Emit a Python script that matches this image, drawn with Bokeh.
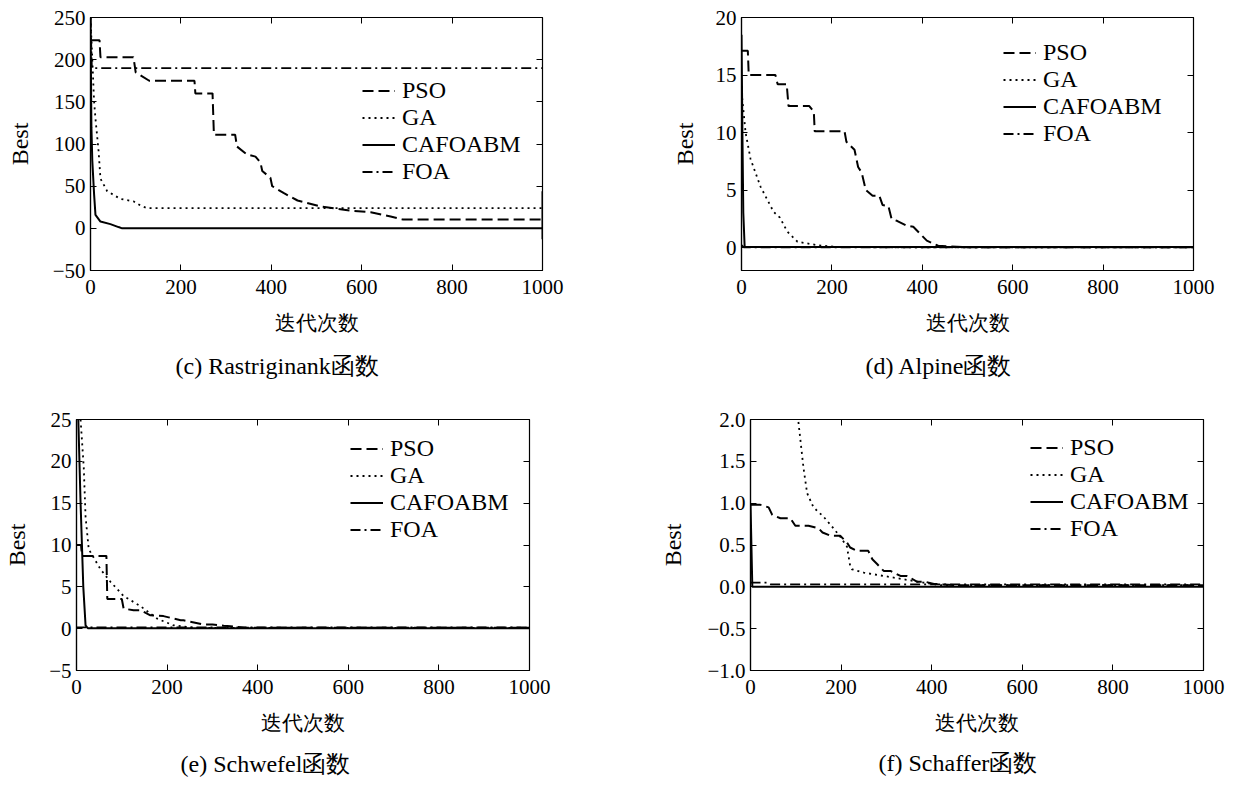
from bokeh.plotting import figure
from bokeh.layouts import column, row
from bokeh.models import (Legend, LegendItem, LinearAxis, Title, FixedTicker,
                          CustomJSTickFormatter, Range1d)
from bokeh.embed import file_html
from bokeh.resources import INLINE

FONT = "Liberation Serif"
SERIES = ["PSO", "GA", "CAFOABM", "FOA"]
X_LABEL = "迭代次数"
Y_LABEL = "Best"
X_TICKS = [0, 200, 400, 600, 800, 1000]

# ---------------- (c) Rastriginank ----------------
c_pso_x = [0, 20, 22, 95, 100, 130, 230, 232, 270, 273, 320, 324, 345, 365, 376, 380, 398, 402, 427, 458, 509, 575, 620, 664, 690, 1000]
c_pso_y = [223, 223, 203, 203, 185, 175, 175, 160, 160, 111, 111, 97, 88, 85, 78, 68, 60, 50, 42, 33, 26, 21, 19, 14, 10.6, 10.6]
c_ga_x = [0, 4, 8, 11, 18, 22, 37, 66, 95, 111, 125, 1000]
c_ga_y = [250, 200, 150, 130, 91, 59, 44, 35, 32, 27, 24, 24]
c_caf_x = [0, 2, 4, 8, 11, 22, 44, 62, 70, 1000, 1000, 1000]
c_caf_y = [250, 120, 80, 40, 16, 8, 5, 1.5, 0, 0, 44, -13]
c_foa_x = [0, 3, 1000]
c_foa_y = [250, 190, 190]

# ---------------- (d) Alpine ----------------
d_pso_x = [0, 14, 16, 75, 80, 100, 104, 150, 160, 162, 228, 232, 250, 258, 266, 275, 290, 305, 312, 325, 332, 345, 365, 380, 395, 410, 435, 460, 500, 1000]
d_pso_y = [17.1, 17.1, 15.0, 15.0, 14.2, 14.2, 12.3, 12.3, 11.8, 10.1, 10.1, 9.2, 8.5, 7.0, 6.5, 5.0, 4.5, 4.5, 3.7, 3.6, 2.5, 2.3, 1.9, 1.8, 1.2, 0.6, 0.15, 0.1, 0.03, 0.03]
d_ga_x = [0, 2, 9, 20, 42, 71, 85, 101, 124, 168, 212, 300, 1000]
d_ga_y = [13.5, 12.8, 10.0, 7.7, 5.3, 3.1, 2.6, 1.4, 0.5, 0.2, 0.05, 0.02, 0.02]
d_caf_x = [0, 2, 4, 7, 1000]
d_caf_y = [18.5, 10, 3, 0.05, 0.05]
d_foa_x = [0, 5, 1000]
d_foa_y = [0.2, 0.02, 0.02]

# ---------------- (e) Schwefel ----------------
e_pso_x = [0, 10, 12, 66, 68, 100, 104, 126, 141, 163, 192, 230, 236, 281, 300, 325, 340, 370, 1000]
e_pso_y = [10.0, 10.0, 8.7, 8.7, 3.55, 3.55, 2.4, 2.2, 2.2, 1.6, 1.5, 1.0, 1.0, 0.5, 0.5, 0.35, 0.3, 0.1, 0.1]
e_ga_x = [0, 9, 16, 20, 27, 53, 75, 104, 141, 178, 214, 260, 1000]
e_ga_y = [30, 25, 19.3, 13.4, 9.5, 7.1, 5.6, 3.9, 2.7, 1.2, 0.4, 0.1, 0.1]
e_caf_x = [0, 4, 9, 15, 20, 25, 1000]
e_caf_y = [30, 25, 15, 5, 0.4, 0.05, 0.05]
e_foa_x = [0, 1000]
e_foa_y = [0.15, 0.15]

# ---------------- (f) Schaffer ----------------
f_pso_x = [0, 22, 40, 48, 66, 88, 99, 128, 150, 159, 177, 198, 213, 220, 235, 260, 269, 280, 294, 309, 331, 346, 368, 386, 405, 450, 1000]
f_pso_y = [0.98, 0.98, 0.95, 0.86, 0.82, 0.82, 0.73, 0.73, 0.70, 0.65, 0.61, 0.61, 0.53, 0.47, 0.43, 0.43, 0.33, 0.27, 0.19, 0.19, 0.13, 0.13, 0.06, 0.06, 0.035, 0.02, 0.02]
f_ga_x = [80, 106, 117, 125, 139, 161, 180, 198, 213, 220, 224, 250, 294, 338, 382, 420, 1000]
f_ga_y = [2.6, 1.96, 1.42, 1.12, 0.95, 0.84, 0.72, 0.60, 0.48, 0.25, 0.21, 0.17, 0.13, 0.09, 0.05, 0.02, 0.02]
f_caf_x = [0, 2, 4, 1000]
f_caf_y = [1.0, 0.5, 0.0, 0.0]
f_foa_x = [0, 37, 45, 1000]
f_foa_y = [0.05, 0.05, 0.03, 0.03]

STYLES = {
    "PSO": dict(line_dash="11 5", line_width=2.0),
    "GA": dict(line_dash="2 4", line_width=1.8),
    "CAFOABM": dict(line_dash="solid", line_width=2.0),
    "FOA": dict(line_dash="10 4 2 4", line_width=1.8),
}

INT_FMT = "return (tick < 0 ? '\\u2212' + Math.abs(tick) : '' + tick);"
DEC_FMT = "return (tick < 0 ? '\\u2212' + Math.abs(tick).toFixed(1) : tick.toFixed(1));"
BLANK_FMT = "return '';"


def make(cfg):
    p = figure(width=cfg["w"], height=cfg["h"], output_backend="svg", toolbar_location=None,
               x_range=Range1d(0, 1000), y_range=Range1d(*cfg["yr"]),
               min_border_left=cfg["b"][0], min_border_right=cfg["b"][1],
               min_border_top=cfg["b"][2], min_border_bottom=cfg["b"][3],
               x_axis_label=X_LABEL, y_axis_label=Y_LABEL)
    p.grid.visible = False
    p.outline_line_color = "black"
    p.outline_line_width = 1.2
    p.background_fill_color = "white"
    p.border_fill_color = "white"

    p.xaxis.ticker = FixedTicker(ticks=X_TICKS)
    p.yaxis.ticker = FixedTicker(ticks=cfg["yt"])
    p.xaxis.formatter = CustomJSTickFormatter(code=INT_FMT)
    p.yaxis.formatter = CustomJSTickFormatter(code=cfg["fmt"])
    for ax in (p.xaxis[0], p.yaxis[0]):
        ax.axis_line_color = "black"
        ax.axis_line_width = 1.2
        ax.major_tick_in = 6
        ax.major_tick_out = 0
        ax.major_tick_line_color = "black"
        ax.minor_tick_line_color = None
        ax.major_label_text_font = FONT
        ax.major_label_text_font_size = "21px"
        ax.major_label_text_color = "black"
        ax.axis_label_text_font = FONT
        ax.axis_label_text_font_style = "normal"
        ax.axis_label_text_color = "black"
    p.xaxis.major_label_standoff = 9
    p.yaxis.major_label_standoff = 5
    p.xaxis.axis_label_text_font_size = "21px"
    p.yaxis.axis_label_text_font_size = "24px"
    p.xaxis.axis_label_standoff = 14
    p.yaxis.axis_label_standoff = cfg["ylstand"]

    # mirrored tick marks on the top and right
    for side, tk in (("right", cfg["yt"]), ("above", X_TICKS)):
        ax = LinearAxis(ticker=FixedTicker(ticks=tk),
                        formatter=CustomJSTickFormatter(code=BLANK_FMT),
                        major_label_standoff=0, axis_line_color=None,
                        major_tick_in=6, major_tick_out=0, major_tick_line_color="black",
                        minor_tick_line_color=None)
        p.add_layout(ax, side)

    rs = {}
    for name in SERIES:
        xs, ys = cfg["data"][name]
        rs[name] = p.line(xs, ys, line_color="black", **STYLES[name])

    leg = Legend(items=[LegendItem(label=n, renderers=[rs[n]]) for n in SERIES],
                 location=cfg["leg"], glyph_width=33, glyph_height=27, label_height=27,
                 spacing=0, padding=0, margin=0, label_standoff=7,
                 border_line_color=None, background_fill_alpha=0,
                 label_text_font=FONT, label_text_font_size="24px", label_text_color="black")
    p.add_layout(leg)

    t = Title(text=cfg["cap"], align="left", offset=cfg["capoff"], text_font=FONT,
              text_font_size="24px", text_font_style="normal", text_color="black",
              standoff=cfg["tstand"])
    p.add_layout(t, "below")
    return p


pc = make(dict(w=617, h=393, yr=(-50, 250), yt=[-50, 0, 50, 100, 150, 200, 250], fmt=INT_FMT,
               b=(90, 75, 15, 123), ylstand=17, leg=(272, 85), capoff=85, tstand=26,
               cap="(c)  Rastriginank函数",
               data={"PSO": (c_pso_x, c_pso_y), "GA": (c_ga_x, c_ga_y),
                     "CAFOABM": (c_caf_x, c_caf_y), "FOA": (c_foa_x, c_foa_y)}))
pd_ = make(dict(w=613, h=393, yr=(-2, 20), yt=[0, 5, 10, 15, 20], fmt=INT_FMT,
                b=(124, 37, 17, 121), ylstand=15, leg=(262, 123), capoff=124, tstand=26,
                cap="(d)  Alpine函数",
                data={"PSO": (d_pso_x, d_pso_y), "GA": (d_ga_x, d_ga_y),
                      "CAFOABM": (d_caf_x, d_caf_y), "FOA": (d_foa_x, d_foa_y)}))
pe = make(dict(w=617, h=395, yr=(-5, 25), yt=[-5, 0, 5, 10, 15, 20, 25], fmt=INT_FMT,
               b=(76, 88, 26, 118), ylstand=16, leg=(274, 127), capoff=104, tstand=23,
               cap="(e)  Schwefel函数",
               data={"PSO": (e_pso_x, e_pso_y), "GA": (e_ga_x, e_ga_y),
                     "CAFOABM": (e_caf_x, e_caf_y), "FOA": (e_foa_x, e_foa_y)}))
pf = make(dict(w=613, h=395, yr=(-1, 2), yt=[-1.0, -0.5, 0.0, 0.5, 1.0, 1.5, 2.0], fmt=DEC_FMT,
               b=(133, 27, 25, 115), ylstand=18, leg=(280, 128), capoff=128, tstand=20,
               cap="(f)  Schaffer函数",
               data={"PSO": (f_pso_x, f_pso_y), "GA": (f_ga_x, f_ga_y),
                     "CAFOABM": (f_caf_x, f_caf_y), "FOA": (f_foa_x, f_foa_y)}))

layout = column(row(pc, pd_), row(pe, pf))
open("out.html", "w").write(file_html(layout, INLINE))
